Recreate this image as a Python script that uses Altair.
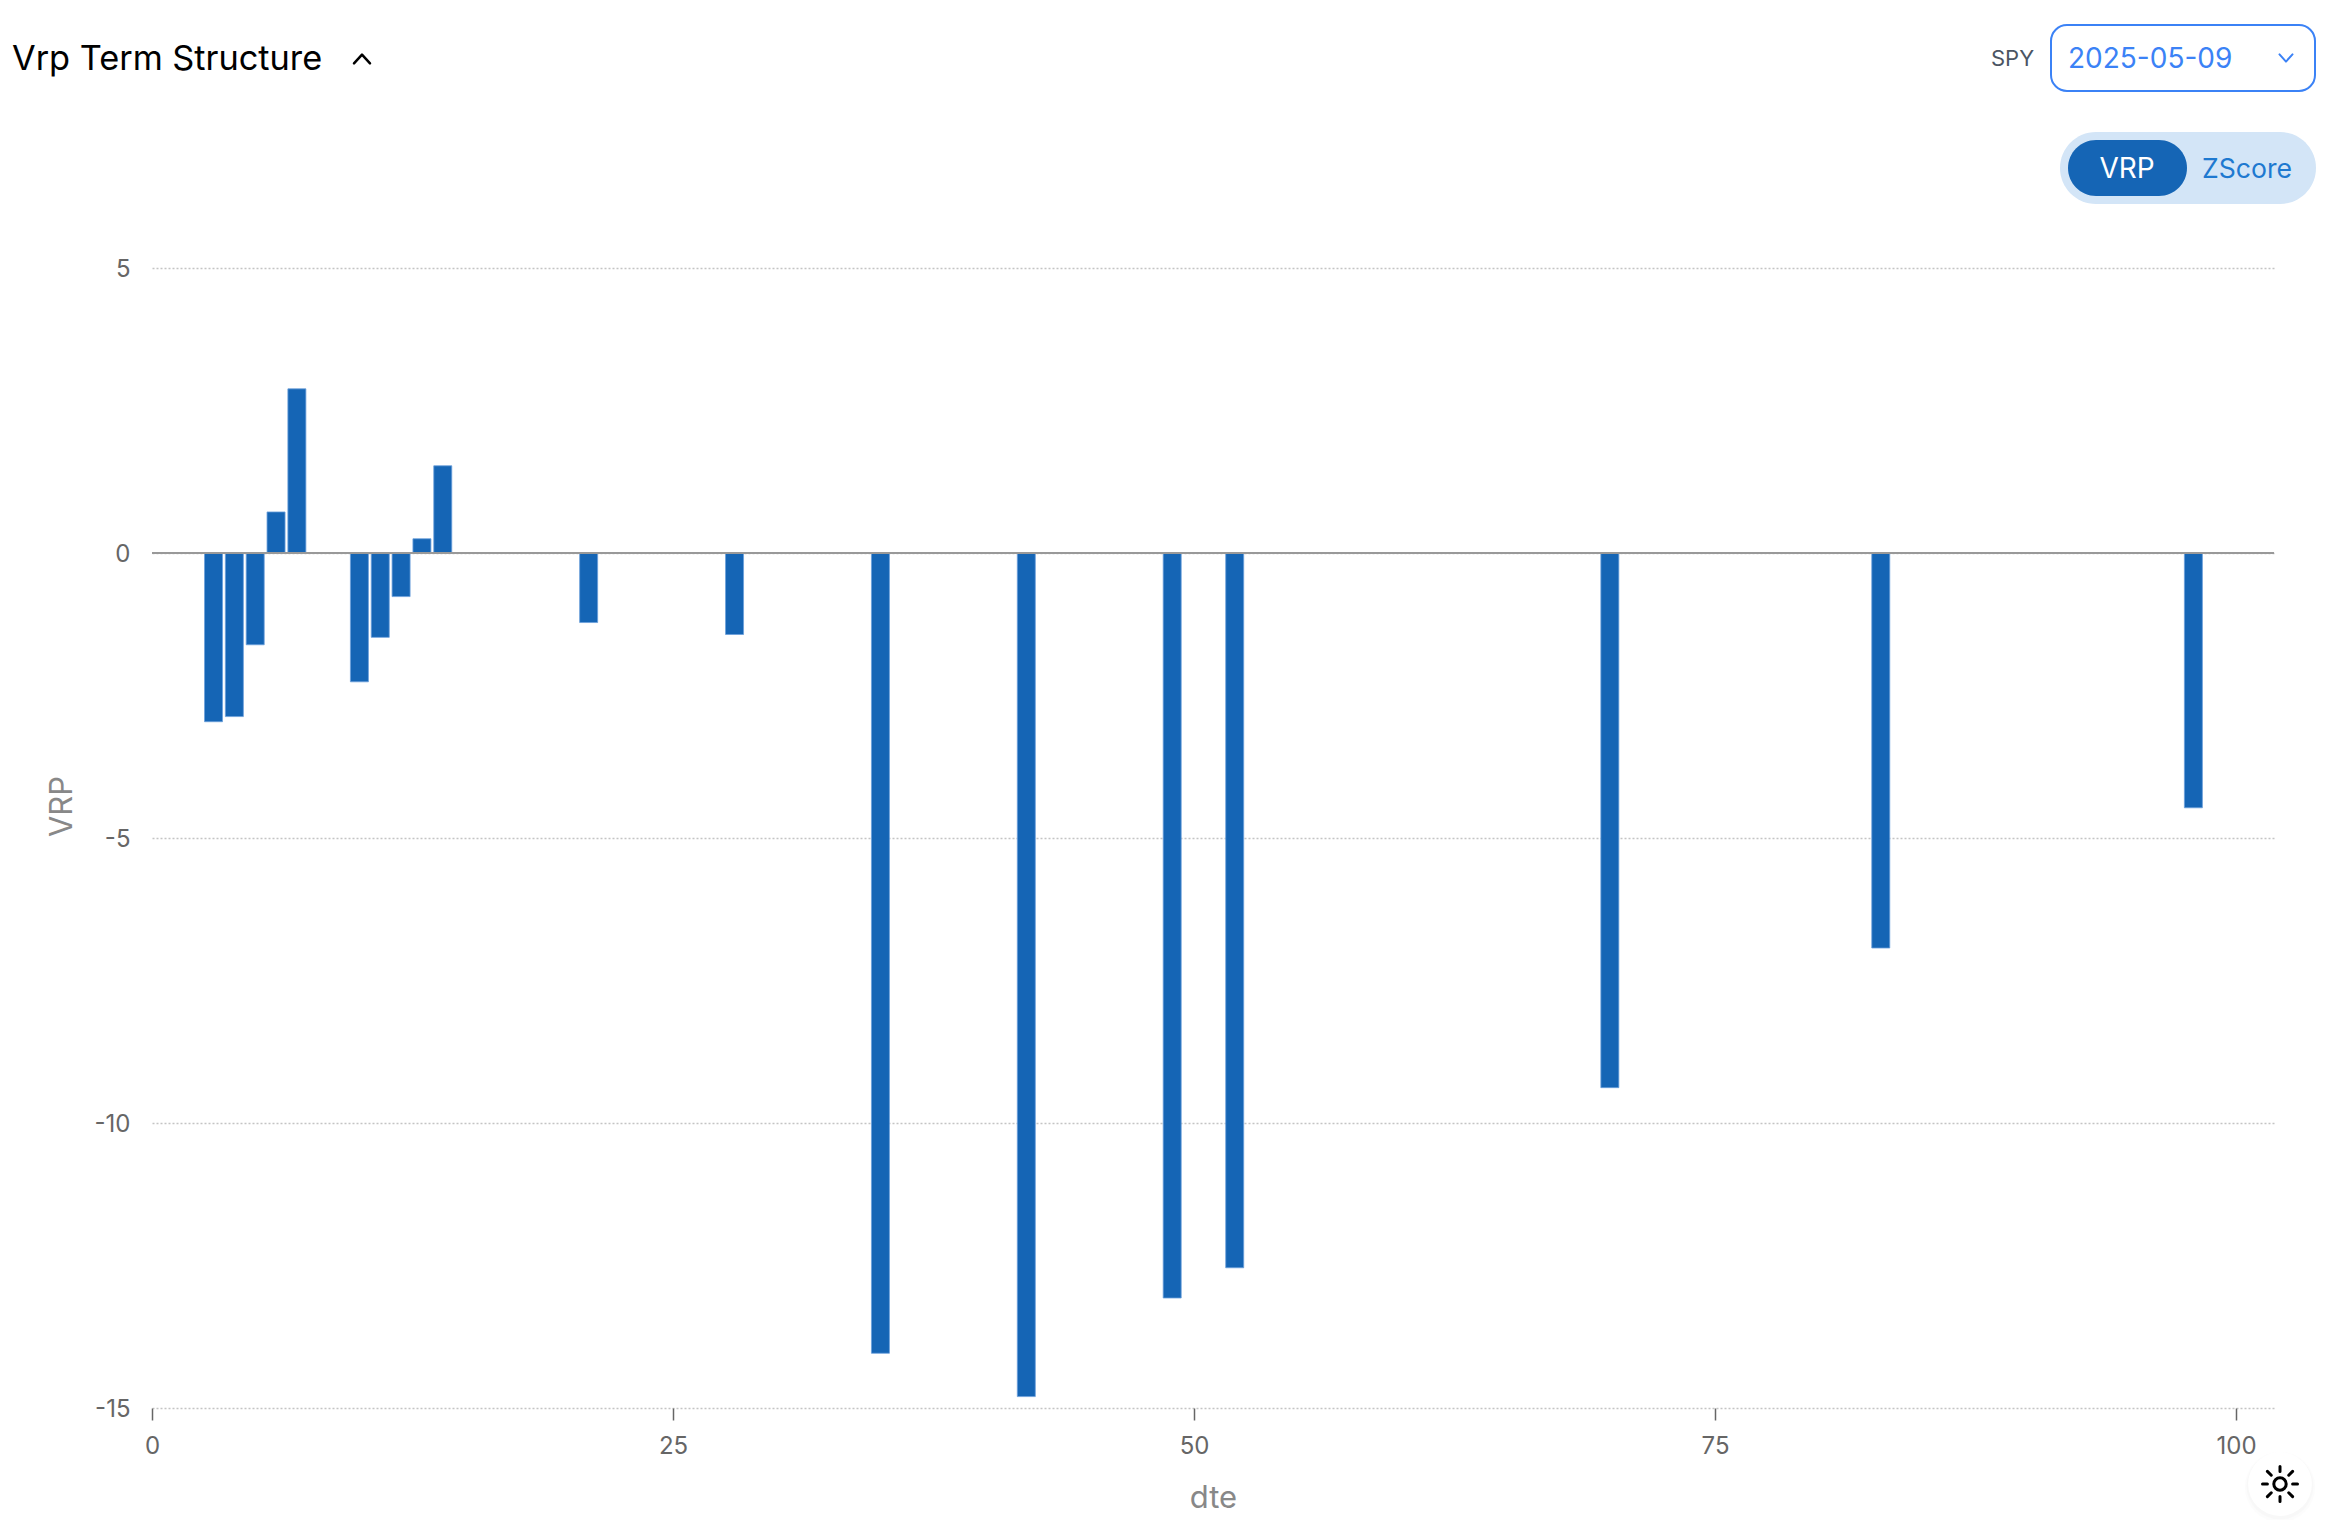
import altair as alt
import pandas as pd

dte = [3, 4, 5, 6, 7, 10, 11, 12, 13, 14, 21, 28, 35, 42, 49, 52, 70, 83, 98]
vrp = [-2.96, -2.87, -1.61, 0.72, 2.88, -2.26, -1.48, -0.765, 0.25, 1.53,
       -1.22, -1.43, -14.04, -14.8, -13.07, -12.54, -9.38, -6.93, -4.47]
x_ticks = [0, 25, 50, 75, 100]
y_ticks = [-15, -10, -5, 0, 5]

FONT = "Inter"
OX, OY = 152, 268   # plot origin on the page
W, H = 2122, 1140

df = pd.DataFrame({"dte": dte, "VRP": vrp})
one = alt.Data(values=[{"k": 1}])


def rect(x0, y0, x1, y1, fill, radius=0, stroke=None, sw=0):
    kw = dict(fill=fill, cornerRadius=radius)
    if stroke:
        kw.update(stroke=stroke, strokeWidth=sw)
    return alt.Chart(one).mark_rect(**kw).encode(
        x=alt.value(x0 - OX), x2=alt.value(x1 - OX),
        y=alt.value(y0 - OY), y2=alt.value(y1 - OY))


def label(x, y, s, size, color, align="left", weight=400):
    return alt.Chart(one).mark_text(
        font=FONT, fontSize=size, color=color, align=align, baseline="middle", fontWeight=weight
    ).encode(x=alt.value(x - OX), y=alt.value(y - OY), text=alt.value(s))


def glyph(x, y, path, size, color, sw):
    return alt.Chart(one).mark_point(
        shape=path, size=size, stroke=color, strokeWidth=sw, filled=False, opacity=1,
        strokeCap="round", strokeJoin="round"
    ).encode(x=alt.value(x - OX), y=alt.value(y - OY))


def disc(x, y, size, color, opacity=1.0):
    return alt.Chart(one).mark_point(
        shape="circle", size=size, fill=color, filled=True, opacity=opacity, strokeWidth=0
    ).encode(x=alt.value(x - OX), y=alt.value(y - OY))


x_scale = alt.Scale(domain=[0, 101.82], nice=False, zero=False, padding=0)
y_scale = alt.Scale(domain=[-15, 5], nice=False)

bars = alt.Chart(df).mark_bar(
    size=18, color="#1565b5", stroke="#6a9fdb", strokeWidth=1, strokeOpacity=0.8, xOffset=-1
).encode(
    x=alt.X("dte:Q", scale=x_scale, axis=alt.Axis(
        values=x_ticks, title="dte", grid=False, domain=False,
        tickColor="#666666", tickWidth=1.5, tickSize=12,
        labelColor="#666666", labelFont=FONT, labelFontSize=24, labelPadding=14,
        labelFlush=False, labelOverlap=False,
        titleFont=FONT, titleFontSize=31, titleFontWeight=400, titleColor="#888888",
        titleX=W / 2, titleY=90, titleBaseline="middle")),
    y=alt.Y("VRP:Q", scale=y_scale, axis=alt.Axis(
        values=y_ticks, title="VRP", grid=True, domain=False, ticks=False,
        gridColor="#c4c4c4", gridDash=[2, 2], gridWidth=1.5,
        labelColor="#666666", labelFont=FONT, labelFontSize=24, labelPadding=22,
        labelOffset=1,
        labelExpr="'' + datum.value",
        titleFont=FONT, titleFontSize=31, titleFontWeight=400, titleColor="#888888",
        titleX=62 - OX, titleY=806 - OY, titleBaseline="middle")),
)

zero_line = alt.Chart(alt.Data(values=[{"v": 0}])).mark_rule(color="#999999", strokeWidth=2).encode(
    y=alt.Y("v:Q", scale=y_scale))

ui = [
    # heading
    label(12, 59.5, "Vrp Term Structure", 34.3, "#000000"),
    glyph(362, 59, "M -1 0.55 L 0 -0.55 L 1 0.55", 256, "#000000", 2.5),
    # ticker and date selector
    label(1991, 58.5, "SPY", 22, "#4b5563"),
    rect(2051, 25, 2315, 91, "#ffffff", 16, "#3b82f6", 2),
    label(2068, 59.5, "2025-05-09", 28, "#3b82f6"),
    glyph(2286, 58, "M -1 -0.55 L 0 0.55 L 1 -0.55", 169, "#3b82f6", 2),
    # toggle
    rect(2060, 132, 2316, 204, "#d3e5f7", 36),
    rect(2068, 140, 2187, 196, "#1565b5", 28),
    label(2127, 169.5, "VRP", 28, "#ffffff", "center"),
    label(2202, 169.5, "ZScore", 26.6, "#1e79d0"),
    # theme button
    disc(2280, 1487, 5000, "#000000", 0.012),
    disc(2280, 1486, 4500, "#000000", 0.015),
    disc(2280, 1484, 4071, "#ffffff"),
    glyph(2280, 1484, "M 0 -1 L 0 -0.72 M 0 1 L 0 0.72 M -1 0 L -0.72 0 M 1 0 L 0.72 0 "
                      "M 0.72 0.72 L 0.5 0.5 M -0.72 0.72 L -0.5 0.5 "
                      "M 0.72 -0.72 L 0.5 -0.5 M -0.72 -0.72 L -0.5 -0.5", 1225, "#000000", 3),
    glyph(2280, 1484, "circle", 154, "#000000", 3),
]

chart = alt.layer(bars, zero_line, *ui).properties(
    width=W, height=H,
    padding={"left": OX - 8, "top": OY - 8, "right": 2336 - (OX - 8) - W, "bottom": 1512 - (OY - 8) - H},
    autosize=alt.AutoSizeParams(type="none"),
    background="white",
).configure_view(stroke=None)

chart.save("out.html", embed_options={"renderer": "svg", "actions": False})
